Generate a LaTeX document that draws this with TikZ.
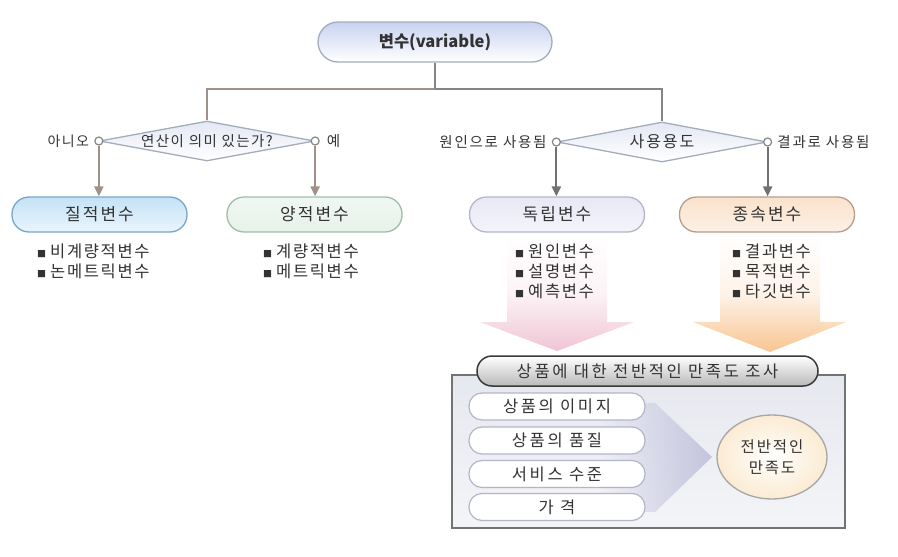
\documentclass[tikz,border=0pt]{standalone}
\usepackage{fontspec}
\setmainfont{Noto Sans CJK KR}
\newfontfamily\krs[LetterSpace=12]{Noto Sans CJK KR}
\newfontfamily\krt[LetterSpace=16]{Noto Sans CJK KR}
\newfontfamily\krl[LetterSpace=10]{Noto Sans CJK KR}
\usetikzlibrary{shapes.geometric,arrows.meta,fadings}
\definecolor{txt}{HTML}{333333}
\definecolor{brn}{HTML}{A0908A}
\definecolor{gry}{HTML}{858585}
\definecolor{bord}{HTML}{A4ACBC}
\definecolor{topblue}{HTML}{C9D3F0}
\definecolor{qblue}{HTML}{C4E2F6}
\definecolor{qblueb}{HTML}{79A6C8}
\definecolor{qgreen}{HTML}{E6F2EA}
\definecolor{qgreenb}{HTML}{A2BCAA}
\definecolor{qlav}{HTML}{E8E8F6}
\definecolor{qlavb}{HTML}{B4B4CA}
\definecolor{qpeach}{HTML}{FAE2CC}
\definecolor{qpeachb}{HTML}{B89C8C}
\definecolor{diaf}{HTML}{E4E8F4}
\definecolor{pinkarr}{HTML}{F0C4D4}
\definecolor{orgarr}{HTML}{F8C490}
\definecolor{boxf}{HTML}{E6E8EF}
\definecolor{chev}{HTML}{C4C4DE}
\definecolor{cream}{HTML}{FBEBD2}
\tikzfading[name=arrfade, top color=transparent!100, bottom color=transparent!0, middle color=transparent!80]
\begin{document}
\begin{tikzpicture}[x=1pt,y=-1pt]
\tikzset{
  pill/.style={draw, rounded corners=17pt, minimum height=35pt, minimum width=175pt,
    line width=1.3pt, font=\krs\fontsize{17}{17}\selectfont, text=txt},
  conn/.style={line width=1.6pt},
  arr/.style={line width=2.2pt, -{Triangle[width=9pt,length=10pt]}},
  tipc/.style={circle, draw=gry, fill=white, line width=1.2pt, minimum size=8pt, inner sep=0pt},
  lab/.style={font=\krs\fontsize{14.5}{14.5}\selectfont, text=txt, inner sep=2pt},
  dia/.style={diamond, draw=bord, line width=1.3pt, top color=diaf, bottom color=white, inner sep=0pt},
  bul/.style={align=left, anchor=north west, font=\krl\fontsize{16.5}{20}\selectfont, text=txt, inner sep=0pt},
  inpill/.style={draw=qlavb, fill=white, line width=1.2pt, rounded corners=13pt,
    minimum width=176pt, minimum height=27pt, font=\krt\fontsize{16.5}{16.5}\selectfont, text=txt},
}
\newcommand{\bsq}{{\fontsize{9}{9}\selectfont ■}\hspace{4pt}}
\useasboundingbox (0,0) rectangle (898,557);

% root
\node[pill, minimum width=234pt, minimum height=40pt, rounded corners=20pt,
  draw=bord, top color=topblue, bottom color=white, font=\fontsize{16.5}{16.5}\selectfont\bfseries]
  (root) at (435,42) {변수(variable)};
\coordinate (j) at (435,89);

% diamonds
\node[dia, minimum width=215pt, minimum height=40pt] (d1) at (207,141) {};
\node[lab, font=\krl\fontsize{14.5}{14.5}\selectfont] (d1t) at (d1) {연산이 의미 있는가?};
\node[dia, minimum width=210pt, minimum height=40pt] (d2) at (662,142) {};
\node[lab, font=\krs\fontsize{16}{16}\selectfont] (d2t) at (d2) {사용용도};

\draw[conn, gry] (root.south) -- (j);
\draw[conn, brn] (j) -| (d1.north);
\draw[conn, gry] (j) -| (d2.north);

% tip circles
\node[tipc] (t1) at (d1.west) {};
\node[tipc] (t2) at (d1.east) {};
\node[tipc] (t3) at (d2.west) {};
\node[tipc] (t4) at (d2.east) {};

\node[lab, anchor=east, font=\krl\fontsize{14}{14}\selectfont] (a1) at ([xshift=-3pt]t1.west) {아니오};
\node[lab, anchor=west] (a2) at ([xshift=5pt]t2.east) {예};
\node[lab, anchor=east] (a3) at ([xshift=-3pt]t3.west) {원인으로 사용됨};
\node[lab, anchor=west] (a4) at ([xshift=3pt]t4.east) {결과로 사용됨};

% second-level pills
\node[pill, draw=qblueb, top color=qblue, bottom color=qblue!35!white] (q1) at (99.5,214.5) {질적변수};
\node[pill, draw=qgreenb, top color=qgreen!60!white, bottom color=qgreen] (q2) at (314.5,214.5) {양적변수};
\node[pill, draw=qlavb, top color=qlav, bottom color=qlav!50!white] (q3) at (557,214.5) {독립변수};
\node[pill, draw=qpeachb, top color=qpeach, bottom color=qpeach!50!white] (q4) at (767,214.5) {종속변수};

\draw[arr, brn] (t1.south) -- (t1.south |- q1.north);
\draw[arr, brn] (t2.south) -- (t2.south |- q2.north);
\draw[arr, gry!85!black] (t3.south) -- (t3.south |- q3.north);
\draw[arr, gry!85!black] (t4.south) -- (t4.south |- q4.north);

% big faded arrows
\fill[pinkarr, path fading=arrfade] (507,236) -- (607,236) -- (607,322) -- (634,322) -- (557,351)
  -- (480,322) -- (507,322) -- cycle;
\fill[orgarr, path fading=arrfade] (720,236) -- (820,236) -- (820,322) -- (846,322) -- (770,352)
  -- (693,322) -- (720,322) -- cycle;

% bullet lists
\node[bul] (l1) at (37,244) {\bsq 비계량적변수\\\bsq 논메트릭변수};
\node[bul] (l2) at (263,244) {\bsq 계량적변수\\\bsq 메트릭변수};
\node[bul] (l3) at (515,244) {\bsq 원인변수\\\bsq 설명변수\\\bsq 예측변수};
\node[bul] (l4) at (732,244) {\bsq 결과변수\\\bsq 목적변수\\\bsq 타깃변수};

% bottom box
\node[draw=gray!90!black, line width=1.8pt, minimum width=393pt, minimum height=153pt,
  top color=boxf, bottom color=boxf!45!white, inner sep=0pt] (box) at (648.5,451.5) {};
\node[draw=gray!45!black, line width=1.5pt, rounded corners=15pt, minimum width=341pt,
  minimum height=30pt, top color=white, bottom color=gray!55, text=txt,
  font=\krt\fontsize{16.5}{16.5}\selectfont] (title) at (647.5,371) {상품에 대한 전반적인 만족도 조사};

% chevron
\fill[chev, path fading=west] (600,403) -- (655,403) -- (712,457) -- (655,512) -- (600,512) -- cycle;

\node[inpill] (p1) at (557,406.5) {상품의 이미지};
\node[inpill] (p2) at (557,440.5) {상품의 품질};
\node[inpill] (p3) at (557,474) {서비스 수준};
\node[inpill] (p4) at (557,507) {가 격};

\node[ellipse, draw=gray!70, line width=1.3pt, minimum width=110pt, minimum height=84pt,
  inner color=white, outer color=cream, align=center, text=txt,
  font=\krs\fontsize{15.5}{21}\selectfont] (res) at (772,457) {전반적인\\만족도};
\end{tikzpicture}
\end{document}
